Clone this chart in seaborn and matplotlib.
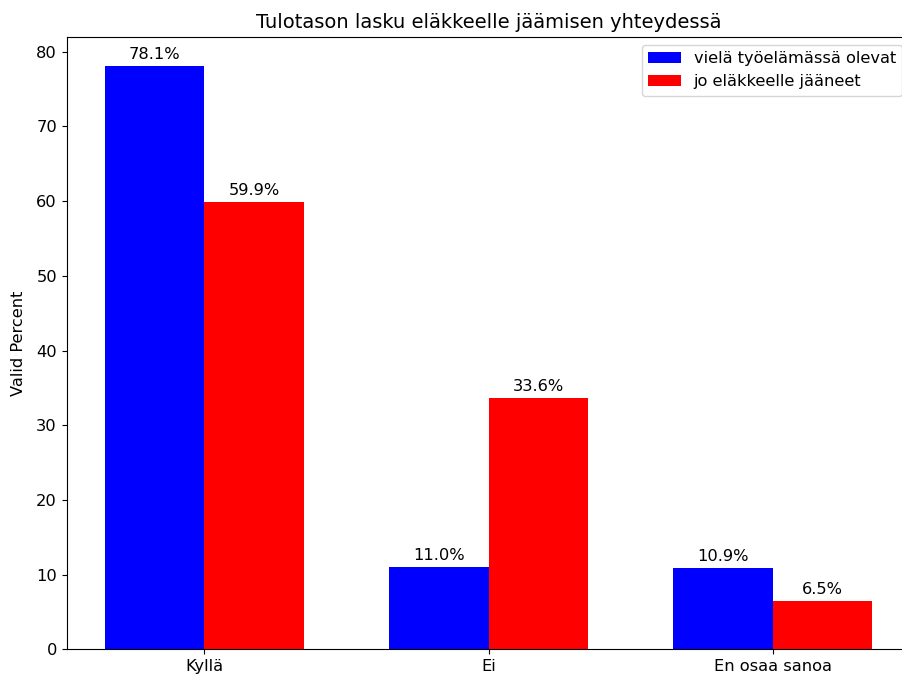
import matplotlib
matplotlib.use("Agg")
import matplotlib.pyplot as plt
import pandas as pd
import seaborn as sns

categories = ["Kyllä", "Ei", "En osaa sanoa"]
groups = ["vielä työelämässä olevat", "jo eläkkeelle jääneet"]
working = [78.1, 11.0, 10.9]
retired = [59.9, 33.6, 6.5]
colors = ["#0000ff", "#ff0000"]

df = pd.DataFrame({
    "category": categories * 2,
    "group": [groups[0]] * len(categories) + [groups[1]] * len(categories),
    "value": working + retired,
})

# the reference screenshot was rendered a bit larger than 100 dpi
plt.rcParams["font.size"] = 11.7

fig = plt.figure(figsize=(9.02, 6.79), dpi=100)
# original screenshot is cropped on the right, so the axes runs past the edge
ax = fig.add_axes([0.0739, 0.0437, 0.9354, 0.9022])

sns.barplot(
    data=df, x="category", y="value", hue="group",
    hue_order=groups, palette=colors, width=0.7, gap=0,
    saturation=1, errorbar=None, ax=ax,
)
for cont in ax.containers:
    ax.bar_label(cont, fmt="%.1f%%", padding=3)

ax.set_xlim(-0.485, 2.485)
ax.set_ylim(0, max(working + retired) * 1.05)
ax.set_xlabel("")
ax.set_ylabel("Valid Percent", labelpad=7)
ax.set_title("Tulotason lasku eläkkeelle jäämisen yhteydessä")
sns.move_legend(ax, "upper right", title=None)

fig.savefig("out.png", dpi=100)
